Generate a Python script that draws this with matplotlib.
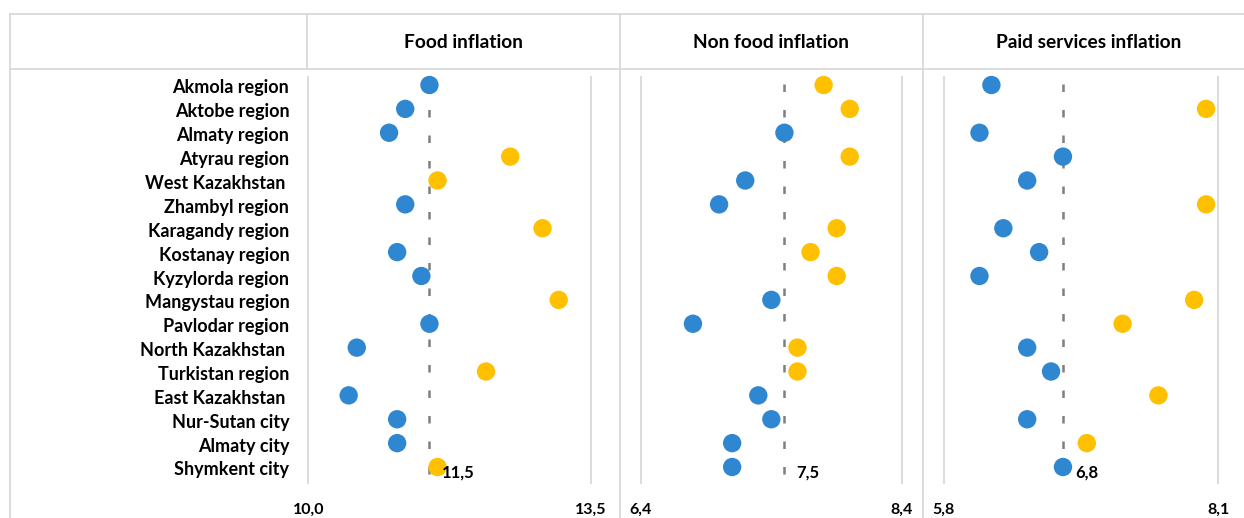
import numpy as np
import matplotlib
matplotlib.use("Agg")
import matplotlib.pyplot as plt
from matplotlib.lines import Line2D

regions = [
    "Akmola region", "Aktobe region", "Almaty region", "Atyrau region",
    "West Kazakhstan ", "Zhambyl region", "Karagandy region", "Kostanay region",
    "Kyzylorda region", "Mangystau region", "Pavlodar region", "North Kazakhstan ",
    "Turkistan region", "East Kazakhstan ", "Nur-Sutan city", "Almaty city",
    "Shymkent city",
]

panel_titles = ["Food inflation", "Non food inflation", "Paid services inflation"]

food = [11.5, 11.2, 11.0, 12.5, 11.6, 11.2, 12.9, 11.1, 11.4, 13.1,
        11.5, 10.6, 12.2, 10.5, 11.1, 11.1, 11.6]
non_food = [7.8, 8.0, 7.5, 8.0, 7.2, 7.0, 7.9, 7.7, 7.9, 7.4,
            6.8, 7.6, 7.6, 7.3, 7.4, 7.1, 7.1]
services = [6.2, 8.0, 6.1, 6.8, 6.5, 8.0, 6.3, 6.6, 6.1, 7.9,
            7.3, 6.5, 6.7, 7.6, 6.5, 7.0, 6.8]

averages = [11.5, 7.5, 6.8]
axis_ranges = [(10.0, 13.5), (6.4, 8.4), (5.8, 8.1)]

BLUE = "#3087D1"
GOLD = "#FFC000"
FRAME = "#D9D9D9"
FONT = "Lato"

W, H = 1244, 518
fig = plt.figure(figsize=(W / 100, H / 100), dpi=100)


def fx(x):
    return x / W


def fy(y):
    return 1 - y / H


def hline(x0, x1, y):
    fig.add_artist(Line2D([fx(x0), fx(x1)], [fy(y), fy(y)], transform=fig.transFigure,
                          color=FRAME, lw=1.3))


def vline(x, y0, y1):
    fig.add_artist(Line2D([fx(x), fx(x)], [fy(y0), fy(y1)], transform=fig.transFigure,
                          color=FRAME, lw=1.3))


# table frame around the three panels
hline(10, W, 14)
hline(10, W, 69)
vline(10, 14, H)
vline(307, 14, 69)
vline(620, 14, H)
vline(923, 14, H)

# pixel extents of each panel's value axis (left edge = min, right edge = max)
panel_px = [(308.3, 591.0), (640.7, 902.0), (943.7, 1218.0)]
header_centers = [463, 771, 1089]
top_px, bottom_px = 77, 483
row_first, row_last = 85, 467
step = (row_last - row_first) / (len(regions) - 1)
y_top = -(row_first - top_px) / step
y_bot = (len(regions) - 1) + (bottom_px - row_last) / step

series = [food, non_food, services]
rows = np.arange(len(regions))

for i, (vals, avg, (lo, hi), (px0, px1)) in enumerate(zip(series, averages, axis_ranges, panel_px)):
    ax = fig.add_axes([fx(px0), fy(bottom_px), fx(px1 - px0), (bottom_px - top_px) / H])
    ax.set_xlim(lo, hi)
    ax.set_ylim(y_bot, y_top)
    ax.patch.set_alpha(0)
    for side in ["top", "bottom"]:
        ax.spines[side].set_visible(False)
    for side in ["left", "right"]:
        ax.spines[side].set_color(FRAME)
        ax.spines[side].set_linewidth(1.3)
    ax.set_xticks([lo, hi])
    ax.set_xticklabels([f"{lo:.1f}".replace(".", ","), f"{hi:.1f}".replace(".", ",")],
                       fontfamily=FONT, fontweight="bold", fontsize=11.5)
    ax.tick_params(axis="x", length=0, pad=14)
    ax.set_yticks([])

    vals = np.array(vals)
    colors = np.where(vals > avg, GOLD, BLUE)
    ax.plot([avg, avg], [-0.05, 16.45], color="#7F7F7F", lw=1.8,
            linestyle=(0, (3, 7.2)), zorder=1)
    ax.scatter(vals, rows, s=175, c=colors, linewidths=0, zorder=3, clip_on=False)
    ax.annotate(f"{avg:.1f}".replace(".", ","), xy=(avg, rows[-1]), xytext=(12, -6),
                textcoords="offset pixels", ha="left", va="center",
                fontfamily=FONT, fontweight="bold", fontsize=12)

    fig.text(fx(header_centers[i]), fy(43), panel_titles[i], ha="center", va="center",
             fontfamily=FONT, fontweight="bold", fontsize=13.8)

    if i == 0:
        for r, name in zip(rows, regions):
            ax.annotate(name, xy=(0, r), xycoords=("axes fraction", "data"),
                        xytext=(-19, -3), textcoords="offset pixels",
                        ha="right", va="center", fontfamily=FONT,
                        fontweight="bold", fontsize=13)

fig.savefig("out.png", dpi=100)
